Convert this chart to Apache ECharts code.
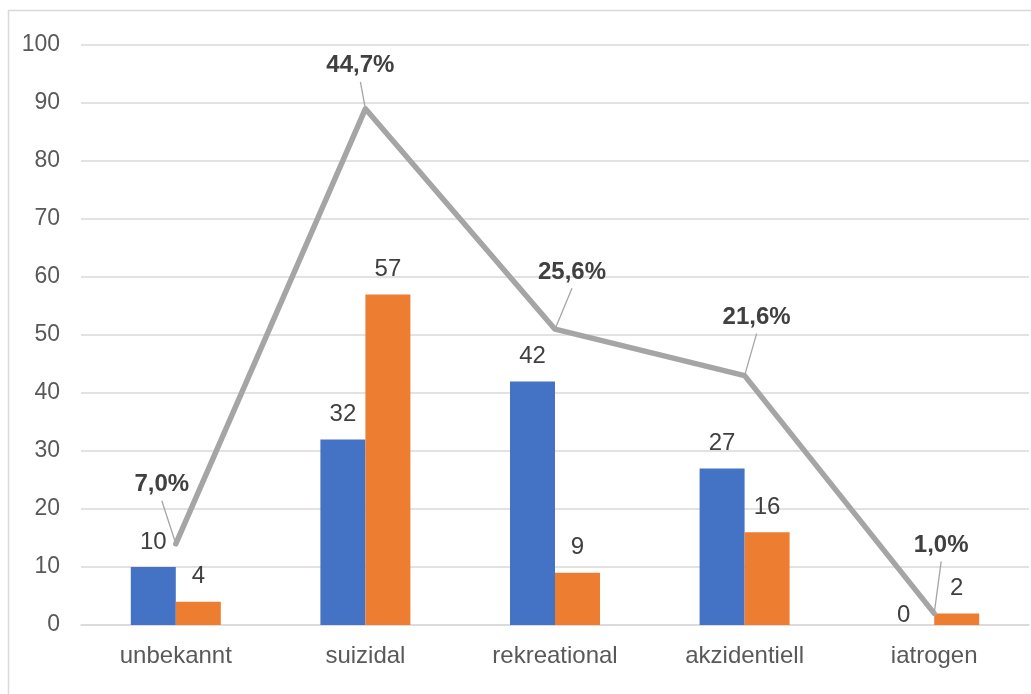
<!DOCTYPE html>
<html>
<head>
<meta charset="utf-8">
<script src="https://cdn.jsdelivr.net/npm/echarts@6/dist/echarts.min.js"></script>
<style>
  html, body { margin: 0; padding: 0; background: #ffffff; }
  #chart { width: 1031px; height: 694px; }
</style>
</head>
<body>
<div id="chart"></div>
<script>
// Categories and counts per category
const categories = ['unbekannt', 'suizidal', 'rekreational', 'akzidentiell', 'iatrogen'];
const blueValues = [10, 32, 42, 27, 0];
const orangeValues = [4, 57, 9, 16, 2];
const yTickValues = [0, 10, 20, 30, 40, 50, 60, 70, 80, 90, 100];

// Pixel offsets of the percentage callouts from their line points
const calloutOffsets = [[-14, -59], [-5, -43], [17, -57], [12, -58], [7, -68]];

// Totals per category and their share of the grand total
const totals = categories.map((_, i) => blueValues[i] + orangeValues[i]);
const grandTotal = totals.reduce((a, b) => a + b, 0);
const shareLabels = totals.map(t => (t / grandTotal * 100).toFixed(1).replace('.', ',') + '%');

const FONT = "'Liberation Sans', Arial, sans-serif";
const GRID_COLOR = '#D9D9D9';

function barData(values) {
  // a zero-height bar gets its label tucked right onto the axis
  return values.map(v => v === 0 ? { value: v, label: { offset: [-8, 15] } } : v);
}

const barLabel = {
  show: true,
  position: 'top',
  distance: 13,
  fontSize: 24,
  fontFamily: FONT,
  color: '#404040'
};

const chart = echarts.init(document.getElementById('chart'), null, { renderer: 'canvas' });

chart.setOption({
  animation: false,
  backgroundColor: '#ffffff',
  graphic: [{
    type: 'rect',
    silent: true,
    z: -10,
    shape: { x: 8.5, y: 10.5, width: 1040, height: 700 },
    style: { fill: 'none', stroke: GRID_COLOR, lineWidth: 1.5 }
  }],
  grid: { left: 81, right: 2, top: 45, bottom: 69, containLabel: false },
  xAxis: {
    type: 'category',
    data: categories,
    axisTick: { show: false },
    axisLine: { show: true, lineStyle: { color: GRID_COLOR, width: 1.5 } },
    axisLabel: { fontSize: 24, fontFamily: FONT, color: '#595959', margin: 19 }
  },
  yAxis: {
    type: 'value',
    min: yTickValues[0],
    max: yTickValues[yTickValues.length - 1],
    interval: yTickValues[1] - yTickValues[0],
    axisLine: { show: false },
    axisTick: { show: false },
    splitLine: { lineStyle: { color: GRID_COLOR, width: 1.5 } },
    axisLabel: { fontSize: 23, fontFamily: FONT, color: '#595959', margin: 21 }
  },
  series: [
    {
      type: 'bar',
      data: barData(blueValues),
      barWidth: 45,
      barGap: '0%',
      itemStyle: { color: '#4472C4' },
      label: barLabel,
      z: 2
    },
    {
      type: 'bar',
      data: barData(orangeValues),
      barWidth: 45,
      barGap: '0%',
      itemStyle: { color: '#ED7D31' },
      label: barLabel,
      z: 2
    },
    {
      type: 'line',
      data: totals,
      symbol: 'none',
      lineStyle: { color: '#A5A5A5', width: 5.5, cap: 'round', join: 'round' },
      z: 3
    },
    {
      // percentage callouts with leader lines
      type: 'custom',
      data: totals.map((t, i) => [i, t]),
      z: 4,
      silent: true,
      renderItem: function (params, api) {
        const i = api.value(0);
        const p = api.coord([i, api.value(1)]);
        const off = calloutOffsets[i];
        const cx = p[0] + off[0];
        const cy = p[1] + off[1];
        return {
          type: 'group',
          children: [
            {
              type: 'line',
              shape: { x1: p[0], y1: p[1], x2: cx, y2: cy + 16 },
              style: { stroke: '#A5A5A5', lineWidth: 1.3 }
            },
            {
              type: 'text',
              style: {
                text: shareLabels[i],
                x: cx,
                y: cy,
                align: 'center',
                verticalAlign: 'middle',
                fontSize: 24,
                fontWeight: 'bold',
                fontFamily: FONT,
                fill: '#404040'
              }
            }
          ]
        };
      }
    }
  ]
});
</script>
</body>
</html>
